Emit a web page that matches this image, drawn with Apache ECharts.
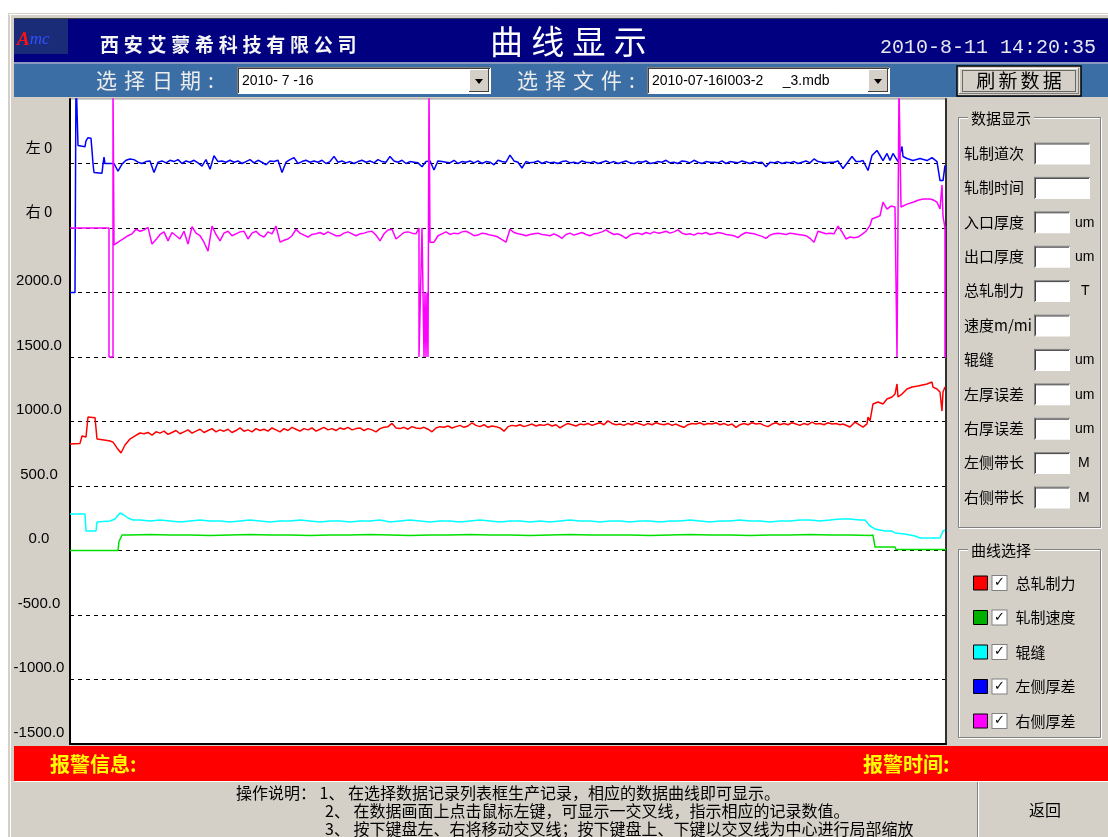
<!DOCTYPE html>
<html><head><meta charset="utf-8">
<script src="https://cdn.jsdelivr.net/npm/echarts/dist/echarts.min.js"></script>
<style>html,body{margin:0;padding:0;background:#fff;}#c{width:1108px;height:837px;}</style>
</head><body><div id="c"></div>
<script>
// ================= DATA =================
const seriesNames = ['总轧制力', '轧制速度', '辊缝', '左侧厚差', '右侧厚差'];
const yMin = -1500, yMax = 3500, yInterval = 500;
const specialTickValues = [3000, 2500];
const specialTickLabels = ['左 0', '右 0'];
const leftZero = 3000;   // 左侧厚差 zero line
const rightZero = 2500;  // 右侧厚差 zero line
const sampleMax = 876;

// 总轧制力
const redStart = [[0,825],[10,830],[12,888],[16,880],[18,1035],[25,1030],[27,864],[34,857],[40,849],[43,840],[47,795],[51,756],[55,818],[60,864],[65,888],[70,911]];
const redBandFrom = 74, redBandStep = 4;
const redBand = [
905,915,895,920,910,925,900,915,930,905,
920,935,910,925,940,915,930,945,920,935,
925,940,915,930,950,925,935,920,945,930,
940,925,950,935,920,945,930,955,940,925,
945,935,950,925,940,955,935,945,930,950,
940,955,935,945,950,930,945,935,920,945,
955,960,985,950,945,955,940,960,950,945,
955,940,920,950,960,955,965,950,960,970,
955,965,990,970,960,975,955,965,960,950,
925,960,970,965,975,960,970,980,965,975,
970,980,965,975,950,970,985,975,965,980,
975,985,970,980,990,975,1005,985,975,980,
970,985,975,990,980,970,985,975,990,980,
975,985,970,980,965,955,975,985,980,990,
975,985,980,990,975,985,970,980,955,975,
985,975,990,980,985,970,960,980,990,975,
985,975,990,980,970,985,975,995,980,985,
975,990,980,985,975];
const redEnd = [[773,981],[780,957],[785,996],[793,957],[797,981],[798,1035],[800,1004],[803,1136],[808,1151],[813,1136],[817,1174],[822,1190],[825,1213],[827,1291],[828,1190],[832,1213],[837,1252],[842,1267],[848,1275],[857,1291],[862,1306],[863,1267],[867,1252],[870,1229],[872,1081],[873,1229],[875,1267]];

// 轧制速度
const greenStart = [[0,0],[48,0],[49,70],[51,70],[52,120]];
const greenBandFrom = 60, greenBandStep = 20;
const greenBand = [120,124,120,120,116,120,124,120,120,116,120,120,124,120,116,120,120,124,120,120,116,120,124,120,120,120,116,120,124,120,120,116,120,120,124,120,120,116];
const greenEnd = [[803,120],[805,27],[825,27],[826,8],[876,8]];

// 辊缝
const cyanStart = [[0,283],[15,283],[16,151],[26,151],[27,221],[40,229],[45,244],[50,291],[54,275],[58,252],[63,236]];
const cyanBandFrom = 70, cyanBandStep = 10;
const cyanBand = [
236,229,236,229,221,229,236,229,229,221,
229,236,229,221,229,229,236,229,221,229,
229,221,229,229,236,221,229,236,229,221,
229,229,221,229,236,229,221,229,229,221,
229,221,229,236,229,229,221,229,229,221,
229,229,221,229,229,236,229,221,229,229,
236,229,229,221,229,229,236,236,229,236,
244,244,236];
const cyanEnd = [[795,236],[800,190],[805,167],[815,151],[822,151],[825,136],[835,128],[845,112],[850,97],[870,97],[872,89],[873,151],[875,159]];

// 左侧厚差 (relative to its zero line 左 0)
const blueStart = [[0,-1000],[5,-1000],[6,700],[7,700],[8,140],[15,130],[16,175],[18,200],[21,195],[22,100],[23,0],[24,-70],[32,-75],[33,-5],[34,50],[35,0],[40,0]];
const blueBandFrom = 44, blueBandStep = 4;
const blueBand = [
0,-60,-5,25,35,30,10,0,15,20,
-70,10,20,5,25,15,30,0,20,10,
25,5,-20,30,-45,60,15,20,10,25,
10,20,0,15,30,5,25,10,-10,20,
15,25,-70,10,30,45,0,15,25,10,
20,10,25,0,15,55,10,20,5,15,
0,15,25,10,20,5,30,15,10,55,
20,10,25,0,15,10,5,-25,15,20,
-50,20,15,10,5,25,0,15,10,20,
5,20,0,15,10,-10,25,15,10,65,
20,10,-35,15,5,10,20,0,15,5,
10,0,15,20,5,10,0,20,10,5,
15,0,10,20,5,15,0,10,20,5,
0,15,10,20,0,5,15,10,25,5,
10,0,20,15,5,25,10,0,15,10,
10,5,20,0,15,10,5,20,10,0,
15,5,10,-25,10,5,15,0,10,5,
15,0,10,20,5,35,15,10,5,10,
10,20];
const blueEnd = [[773,-39],[782,54],[786,15],[790,15],[793,23],[798,-54],[802,62],[807,101],[810,62],[813,23],[817,78],[820,23],[823,78],[828,15],[832,132],[833,54],[837,39],[843,23],[850,39],[857,23],[862,46],[867,15],[870,-132],[873,-132],[875,-15]];

// 右侧厚差 (relative to its zero line 右 0)
const magentaStart = [[0,0],[39,0],[39,-1000],[43,-1000],[43,1100],[44,1100],[44,-130]];
const magentaBand1From = 46, magentaBandStep = 4;
const magentaBand1 = [
-125,-100,-80,-60,-45,-10,-25,-15,5,-125,
-90,-50,-30,-100,-35,-60,-85,-25,-125,10,
-40,-60,-110,-180,15,-50,-100,-40,-25,-60,
-45,-30,-25,-85,-40,-25,-55,-70,-30,-45,
15,-110,-95,-85,-60,-10,-40,-55,-70,-50,
-45,-35,-50,-30,-45,-60,-60,-40,-30,-45,
-60,-45,-40,-30,-25,-55,-100,-45,-15,-10,
-85,-60,-35,-30,-40,-45];
const magentaMid = [[349,0],[349,-1000],[351,-1000],[352,0],[353,0],[354,-1000],[355,-500],[356,-1000],[357,-500],[358,-1000],[359,-1000],[359,1100],[360,1100],[360,-110]];
const magentaBand2From = 364;
const magentaBand2 = [
-110,-60,-45,-30,-50,-40,-45,-30,-25,-40,
-60,-55,-40,-45,-55,-60,-70,-90,-110,-10,
-35,-45,-50,-60,-50,-45,-40,-50,-55,-60,
-45,-60,-80,-50,-40,-55,-45,-35,-50,-60,
-45,-40,-30,-15,-35,-50,-45,-60,-80,-55,
-45,-40,-50,-35,-45,-30,-40,-35,-25,-40,
-30,-15,-40,-50,-45,-55,-40,-45,-35,-50,
-45,-35,-40,-50,-55,-60,-75,-50,-35,-40,
-45,-55,-65,-80,-55,-45,-40,-45,-50,-40,
-45,-50,-55,-60,-80,-110,-25,-35,-45,-40,
-45,15,-30,-85,-70,-75,-70,-50,-25];
const magentaEnd = [[800,20],[802,70],[807,85],[810,95],[813,200],[817,147],[821,170],[825,163],[827,-1000],[828,-1000],[829,1100],[830,1100],[831,163],[837,185],[843,200],[848,215],[853,225],[860,225],[864,215],[867,200],[870,147],[872,333],[873,93],[875,0],[875,-1000],[876,-1000]];

// ================= BUILD =================
function band(from, step, vals) { return vals.map((v, i) => [from + i * step, v]); }
function shift(pairs, off) { return pairs.map(p => [p[0], p[1] + off]); }

const redData = redStart.concat(band(redBandFrom, redBandStep, redBand), redEnd);
const greenData = greenStart.concat(band(greenBandFrom, greenBandStep, greenBand), greenEnd);
const cyanData = cyanStart.concat(band(cyanBandFrom, cyanBandStep, cyanBand), cyanEnd);
const blueData = shift(blueStart.concat(band(blueBandFrom, blueBandStep, blueBand), blueEnd), leftZero);
const magentaData = shift(magentaStart.concat(band(magentaBand1From, magentaBandStep, magentaBand1), magentaMid, band(magentaBand2From, magentaBandStep, magentaBand2), magentaEnd), rightZero);

const lineColors = ['#ff0000', '#00e000', '#00ffff', '#0000ff', '#ff00ff'];
const legendColors = ['#ff0000', '#00b000', '#00ffff', '#0000ff', '#ff00ff'];
const allData = [redData, greenData, cyanData, blueData, magentaData];

const CJK = '"Noto Sans CJK SC", sans-serif';
const LAT = '"Liberation Sans", Arial, sans-serif';

// ================= UI GRAPHICS =================
const G = [];
function rect(x, y, w, h, fill, stroke, lw, z, dash) {
  G.push({ type: 'rect', silent: true, z: z == null ? 0 : z, shape: { x, y, width: w, height: h },
    style: { fill: fill || 'none', stroke: stroke || 'none', lineWidth: lw || 1, lineDash: dash || null } });
}
function line(x1, y1, x2, y2, stroke, lw, z, dash) {
  G.push({ type: 'line', silent: true, z: z == null ? 1 : z, shape: { x1, y1, x2, y2 },
    style: { stroke, lineWidth: lw || 1, lineDash: dash || null } });
}
function text(x, y, str, st, z) {
  G.push({ type: 'text', silent: true, z: z == null ? 2 : z, x, y,
    style: Object.assign({ text: str, fill: '#000', fontSize: 15, fontFamily: CJK, align: 'left', verticalAlign: 'middle' }, st || {}) });
}
function spaced(s, sp) { return s.split('').join(sp); }

// window
rect(8, 13, 1100, 824, '#d4d0c8', null, 1, -10);
line(10.5, 14, 10.5, 837, '#ffffff', 1, -9);
line(9, 14.5, 1108, 14.5, '#ffffff', 1, -9);
// title bar
rect(14, 18, 1094, 44, '#000080');
line(14, 18.5, 1108, 18.5, '#404040', 1);
rect(14, 19, 54, 35, '#1a2c78');
G.push({ type: 'text', silent: true, z: 2, x: 17, y: 40, style: { text: '{a|A}{b|mc}', verticalAlign: 'middle',
  rich: { a: { fill: '#ff1010', fontSize: 19, fontStyle: 'italic', fontWeight: 'bold', fontFamily: '"Liberation Serif", serif' },
          b: { fill: '#3050ff', fontSize: 17, fontStyle: 'italic', fontFamily: '"Liberation Serif", serif' } } } });
text(100, 45, spaced('西安艾蒙希科技有限公司', '\u2005'), { fill: '#f4f4f4', fontSize: 19, fontWeight: 'bold' });
text(490, 41, spaced('曲线显示', '\u2005'), { fill: '#ffffff', fontSize: 33 });
text(880, 48, '2010-8-11 14:20:35', { fill: '#e6e6ee', fontSize: 20, fontFamily: '"Liberation Mono", "DejaVu Sans Mono", monospace' });
rect(14, 62, 1094, 2, '#8a98c0');
rect(14, 64, 1094, 33, '#3a6ea5');
// date selector
text(96, 80, spaced('选择日期', '\u2004') + '\u2004:', { fill: '#ececec', fontSize: 21 });
function combo(x, w, str) {
  rect(x, 67, w, 27, '#ffffff', null);
  line(x, 67.5, x + w, 67.5, '#808080', 1);
  line(x + 0.5, 67, x + 0.5, 94, '#808080', 1);
  line(x + 1, 68.5, x + w - 1, 68.5, '#404040', 1);
  line(x + 1.5, 68, x + 1.5, 93, '#404040', 1);
  text(x + 5, 81, str, { fontSize: 14, fontFamily: LAT });
  const bx = x + w - 22;
  rect(bx, 69, 20, 23, '#d4d0c8', null);
  line(bx, 69.5, bx + 20, 69.5, '#ffffff', 1);
  line(bx + 0.5, 69, bx + 0.5, 92, '#ffffff', 1);
  line(bx, 91.5, bx + 20, 91.5, '#404040', 1);
  line(bx + 19.5, 69, bx + 19.5, 92, '#404040', 1);
  G.push({ type: 'polygon', silent: true, z: 3, shape: { points: [[bx + 6, 79], [bx + 14, 79], [bx + 10, 84]] }, style: { fill: '#000' } });
}
combo(237, 254, '2010- 7 -16');
text(517, 80, spaced('选择文件', '\u2004') + '\u2004:', { fill: '#ececec', fontSize: 21 });
combo(647, 243, '2010-07-16I003-2     _3.mdb');
// refresh button
rect(957, 66, 124, 30, '#d4d0c8', '#000000', 1.5, 1);
line(959, 68.5, 1079, 68.5, '#ffffff', 1);
line(959.5, 68, 959.5, 94, '#ffffff', 1);
line(959, 93.5, 1079, 93.5, '#808080', 1);
line(1078.5, 68, 1078.5, 94, '#808080', 1);
rect(962.5, 70.5, 113, 21, 'none', '#000', 1, 2, [1, 1]);
text(1019, 81, spaced('刷新数据', '\u2006'), { fontSize: 19, align: 'center' });

// right panel: 数据显示
function groupBox(x, y, w, h, title) {
  rect(x + 1.5, y + 1.5, w, h, 'none', '#ffffff', 1, 1);
  rect(x + 0.5, y + 0.5, w, h, 'none', '#808080', 1, 1);
  text(x + 10, y + 1, title, { fontSize: 15, backgroundColor: '#d4d0c8', padding: [0, 3, 0, 3] }, 3);
}
groupBox(958, 117, 142, 410, '数据显示');
const fieldLabels = ['轧制道次', '轧制时间', '入口厚度', '出口厚度', '总轧制力', '速度m/mi', '辊缝', '左厚误差', '右厚误差', '左侧带长', '右侧带长'];
const fieldUnits = ['', '', 'um', 'um', 'T', '', 'um', 'um', 'um', 'M', 'M'];
const fieldWide = [true, true, false, false, false, false, false, false, false, false, false];
fieldLabels.forEach((lab, i) => {
  const cy = 153 + i * 34.4;
  text(964, cy, lab, { fontSize: 15 });
  const w = fieldWide[i] ? 56 : 36;
  rect(1034, cy - 10.5, w, 22, '#ffffff', null, 1, 1);
  line(1034, cy - 10, 1034 + w, cy - 10, '#808080', 1, 2);
  line(1034.5, cy - 10.5, 1034.5, cy + 11.5, '#808080', 1, 2);
  line(1035, cy - 9, 1033 + w, cy - 9, '#404040', 1, 2);
  line(1035.5, cy - 9.5, 1035.5, cy + 10.5, '#404040', 1, 2);
  const u = fieldUnits[i];
  if (u) text(u === 'um' ? 1075 : (u === 'T' ? 1081 : 1078), cy + 1, u, { fontSize: 14, fontFamily: LAT });
});
groupBox(958, 549, 142, 188, '曲线选择');

// alarm bar
rect(14, 746, 1094, 35, '#ff0000');
text(50, 764, '报警信息:', { fill: '#ffff00', fontSize: 20, fontWeight: 'bold' });
text(863, 764, '报警时间:', { fill: '#ffff00', fontSize: 20, fontWeight: 'bold' });
line(14, 781.5, 1108, 781.5, '#ffffff', 1);
// instructions
text(236, 793, '操作说明： 1、 在选择数据记录列表框生产记录，相应的数据曲线即可显示。', { fontSize: 16 });
text(325, 811, '2、 在数据画面上点击鼠标左键，可显示一交叉线，指示相应的记录数值。', { fontSize: 16 });
text(325, 829, '3、 按下键盘左、右将移动交叉线；按下键盘上、下键以交叉线为中心进行局部缩放', { fontSize: 16 });
line(977.5, 782, 977.5, 837, '#808080', 1);
line(978.5, 782, 978.5, 837, '#ffffff', 1);
text(1045, 810, '返回', { fontSize: 16, align: 'center' });

// ================= CHART =================
const chart = echarts.init(document.getElementById('c'), null, { renderer: 'canvas' });
chart.setOption({
  animation: false,
  textStyle: { fontFamily: LAT },
  graphic: { elements: G },
  grid: { left: 70, right: 162, top: 99, bottom: 93, show: true, backgroundColor: '#ffffff', borderColor: '#9a9a9a', borderWidth: 1, containLabel: false, outerBoundsMode: 'none' },
  xAxis: { type: 'value', min: 0, max: sampleMax,
    axisLine: { show: true, onZero: false, lineStyle: { color: '#000', width: 2 } },
    axisTick: { show: false }, axisLabel: { show: false }, splitLine: { show: false } },
  yAxis: [{
    type: 'value', min: yMin, max: yMax, interval: yInterval, position: 'left',
    axisLine: { show: true, onZero: false, lineStyle: { color: '#000', width: 2 } },
    axisTick: { show: false },
    splitLine: { show: true, showMinLine: false, showMaxLine: false, lineStyle: { color: '#000', width: 1, type: [4, 4] } },
    axisLabel: {
      show: true, margin: 31, align: 'center', verticalAlign: 'bottom', padding: [0, 0, 4, 0],
      color: '#000', fontSize: 15, fontFamily: LAT, hideOverlap: false,
      formatter: function (v) {
        const k = specialTickValues.indexOf(v);
        if (k >= 0) return '{c|' + specialTickLabels[k] + '}';
        if (v === yMax) return '';
        return v.toFixed(1);
      },
      rich: { c: { fontFamily: CJK, fontSize: 15, color: '#000', padding: [0, 0, 5, 0] } }
    }
  }, {
    type: 'value', min: yMin, max: yMax, interval: yInterval, position: 'right',
    axisLine: { show: true, onZero: false, lineStyle: { color: '#303030', width: 2 } },
    axisTick: { show: false }, axisLabel: { show: false }, splitLine: { show: false }
  }],
  legend: {
    orient: 'vertical', left: 968, top: 570, itemWidth: 14, itemHeight: 14, itemGap: 18.5, icon: 'rect',
    data: seriesNames.map((n, i) => ({ name: n, itemStyle: { color: legendColors[i], borderColor: '#000', borderWidth: 1 } })),
    formatter: name => '{cb|✓}{t|' + name + '}',
    textStyle: {
      color: '#000', fontSize: 15, fontFamily: CJK,
      rich: {
        cb: { width: 14, height: 14, lineHeight: 14, align: 'center', backgroundColor: '#ffffff', borderColor: '#808080', borderWidth: 1, fontSize: 13, fontWeight: 'bold', color: '#000', fontFamily: '"DejaVu Sans", sans-serif' },
        t: { padding: [0, 0, 0, 9], fontSize: 15, fontFamily: CJK, color: '#000' }
      }
    }
  },
  series: seriesNames.map((n, i) => ({
    name: n, type: 'line', yAxisIndex: 0, data: allData[i], showSymbol: false, symbol: 'none',
    color: lineColors[i], lineStyle: { width: 1.5, color: lineColors[i] }, clip: true, z: 3 + i
  }))
});
</script>
</body></html>
